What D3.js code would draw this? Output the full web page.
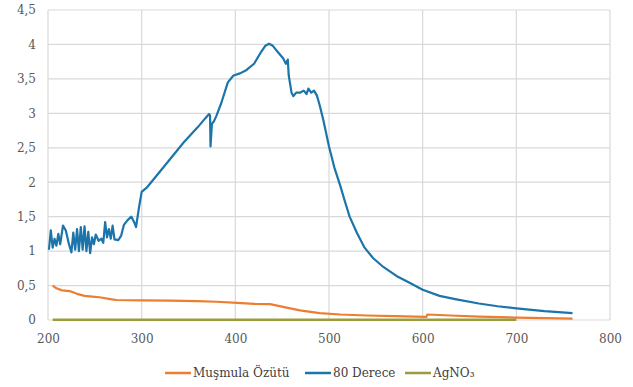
<!DOCTYPE html>
<meta charset="utf-8">
<style>
  body { margin: 0; background: #fff; }
  .tick text { fill: #595959; font-size: 12px; }
  .legend text { fill: #404040; font-size: 12px; }
</style>
<script src="https://d3js.org/d3.v7.min.js"></script>
<body>
<svg id="chart" width="633" height="387"></svg>
<script>

// wavelength (nm), absorbance
var musmula = [
  [205,0.50],[209,0.46],[215,0.43],[223,0.42],[231,0.38],[239,0.35],[247,0.34],[255,0.33],
  [268,0.30],[273,0.29],[300,0.285],[330,0.28],[359,0.275],[380,0.265],[402,0.25],[420,0.235],
  [437,0.23],[451,0.19],[469,0.14],[490,0.10],[512,0.08],[540,0.065],[570,0.055],[604,0.045],
  [605,0.08],[630,0.065],[660,0.05],[700,0.035],[730,0.027],[760,0.02]
];

var derece80 = [
  [201,1.02],[203,1.30],[205,1.05],[207,1.18],[209,1.08],[211,1.25],[213,1.10],[216,1.37],
  [219,1.30],[222,1.12],[225,0.98],[227,1.27],[229,1.02],[231,1.32],[233,1.00],[235,1.35],
  [237,1.02],[239,1.36],[241,1.00],[243,1.28],[245,0.97],[247,1.20],[249,1.10],[251,1.24],
  [254,1.15],[257,1.18],[259,1.12],[261,1.42],[263,1.20],[265,1.32],[267,1.18],[269,1.37],
  [271,1.17],[275,1.16],[278,1.22],[281,1.38],[285,1.45],[289,1.50],[292,1.42],[294,1.35],
  [297,1.62],[300,1.86],[306,1.93],[315,2.08],[330,2.33],[345,2.58],[360,2.80],[368,2.93],
  [372,2.99],[373,2.97],[373.5,2.52],[375,2.85],[377,2.88],[380,2.97],[385,3.15],[392,3.45],
  [398,3.55],[405,3.58],[412,3.63],[420,3.72],[427,3.88],[432,3.98],[436,4.01],[440,3.98],
  [446,3.88],[451,3.80],[454,3.72],[456,3.78],[457,3.55],[460,3.30],[462,3.25],[465,3.30],
  [469,3.30],[473,3.33],[476,3.28],[478,3.36],[481,3.30],[484,3.33],[487,3.26],[490,3.12],
  [494,2.90],[500,2.52],[506,2.20],[512,1.95],[517,1.72],[522,1.50],[530,1.26],[538,1.05],
  [547,0.90],[558,0.77],[572,0.64],[586,0.54],[600,0.44],[618,0.35],[636,0.30],[660,0.24],
  [680,0.20],[700,0.17],[730,0.13],[760,0.10]
];

var agno3 = [[205,0.005],[300,0.005],[400,0.005],[500,0.005],[600,0.005],[700,0.005]];

var xTicks = [200,300,400,500,600,700,800];
var yTicks = [0,0.5,1,1.5,2,2.5,3,3.5,4,4.5];

var seriesNames = ["Muşmula Özütü","80 Derece","AgNO₃"];
var seriesColors = ["#ed7d31","#1b75aa","#9c9c3e"];
var seriesData = [musmula, derece80, agno3];

var fontFamily = "'DejaVu Serif', 'Liberation Serif', serif";

var svg = d3.select("#chart"),
    margin = {top: 10, right: 23, bottom: 67, left: 48},
    width = 633 - margin.left - margin.right,
    height = 387 - margin.top - margin.bottom;

var g = svg.append("g").attr("transform", "translate(" + margin.left + "," + margin.top + ")");

var x = d3.scaleLinear().domain([200, 800]).range([0, width]);
var y = d3.scaleLinear().domain([0, 4.5]).range([height, 0]);

var fmt = function(d) { return String(d).replace(".", ","); };

// gridlines
g.append("g")
  .selectAll("line.h")
  .data(yTicks)
  .enter().append("line")
    .attr("x1", 0).attr("x2", width)
    .attr("y1", function(d) { return y(d); }).attr("y2", function(d) { return y(d); })
    .attr("stroke", "#d9d9d9").attr("stroke-width", 1.2);

g.append("g")
  .selectAll("line.v")
  .data(xTicks)
  .enter().append("line")
    .attr("y1", 0).attr("y2", height)
    .attr("x1", function(d) { return x(d); }).attr("x2", function(d) { return x(d); })
    .attr("stroke", "#d9d9d9").attr("stroke-width", 1.2);

// axes
var yAxis = g.append("g")
  .call(d3.axisLeft(y).tickValues(yTicks).tickFormat(fmt).tickSize(0).tickPadding(12));
yAxis.select(".domain").remove();

var xAxis = g.append("g")
  .attr("transform", "translate(0," + height + ")")
  .call(d3.axisBottom(x).tickValues(xTicks).tickSize(0).tickPadding(14));
xAxis.select(".domain").remove();

yAxis.attr("font-family", fontFamily).selectAll("text").attr("font-family", fontFamily);
xAxis.attr("font-family", fontFamily).selectAll("text").attr("font-family", fontFamily);

// lines
var line = d3.line()
  .x(function(d) { return x(d[0]); })
  .y(function(d) { return y(d[1]); });

seriesData.forEach(function(data, i) {
  g.append("path")
    .datum(data)
    .attr("fill", "none")
    .attr("stroke", seriesColors[i])
    .attr("stroke-width", i == 2 ? 2.5 : 2.2)
    .attr("stroke-linejoin", "round")
    .attr("d", line);
});

// legend
var legendX = [165, 305, 405];
var legend = svg.append("g").attr("class", "legend");
seriesNames.forEach(function(name, i) {
  legend.append("line")
    .attr("x1", legendX[i]).attr("x2", legendX[i] + 26)
    .attr("y1", 373).attr("y2", 373)
    .attr("stroke", seriesColors[i]).attr("stroke-width", 2.5);
  legend.append("text")
    .attr("x", legendX[i] + 28).attr("y", 377)
    .attr("font-family", fontFamily)
    .text(name);
});

</script>
</body>
